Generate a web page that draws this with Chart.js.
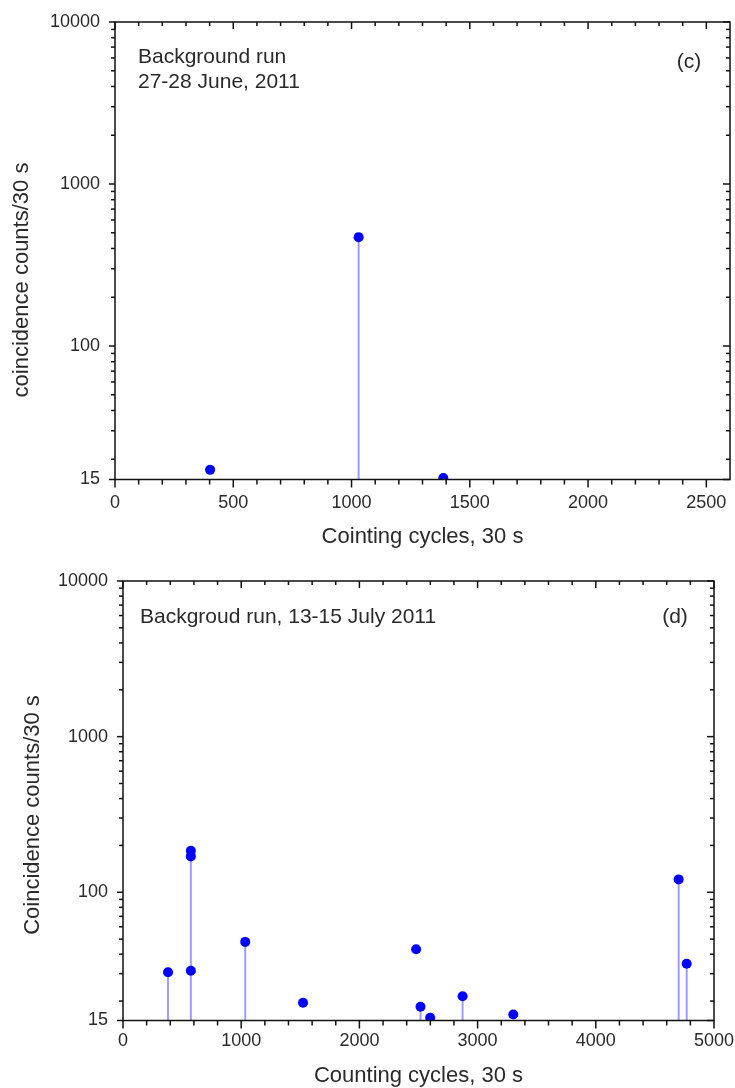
<!DOCTYPE html>
<html>
<head>
<meta charset="utf-8">
<script src="https://cdn.jsdelivr.net/npm/chart.js@4.4.1/dist/chart.umd.min.js"></script>
<style>
  html, body { margin: 0; padding: 0; background: #fff; }
  #wrap { position: relative; width: 735px; height: 1088px; }
  canvas { position: absolute; left: 0; }
  #chartC { top: 0; }
  #chartD { top: 555px; }
</style>
</head>
<body>
<div id="wrap">
  <canvas id="chartC" width="735" height="555"></canvas>
  <canvas id="chartD" width="735" height="533"></canvas>
</div>
<script>
const Y_MIN = 15;
const Y_MAX = 10000;
const Y_TICKS = [15, 100, 1000, 10000];
const Y_MINOR = [20, 30, 40, 50, 60, 70, 80, 90, 200, 300, 400, 500, 600, 700, 800, 900,
  2000, 3000, 4000, 5000, 6000, 7000, 8000, 9000];

// panel (c)
const cX = [402, 1030, 1388];
const cY = [17.2, 470, 15.3];
const cStem = [false, true, false];
const cXTicks = [0, 500, 1000, 1500, 2000, 2500];
const cXMinor = [100, 200, 300, 400, 600, 700, 800, 900, 1100, 1200, 1300, 1400, 1600, 1700,
  1800, 1900, 2100, 2200, 2300, 2400];
const cXMax = 2600;

// panel (d)
const dX = [381, 574, 574, 574, 1034, 1523, 2480, 2517, 2599, 2873, 3302, 4701, 4769];
const dY = [30.6, 31.3, 170, 185, 48, 19.5, 43, 18.4, 15.6, 21.5, 16.4, 121, 34.7];
const dStem = [true, true, true, true, true, false, false, true, false, true, false, true, true];
const dXTicks = [0, 1000, 2000, 3000, 4000, 5000];
const dXMinor = [200, 400, 600, 800, 1200, 1400, 1600, 1800, 2200, 2400, 2600, 2800,
  3200, 3400, 3600, 3800, 4200, 4400, 4600, 4800];
const dXMax = 5000;

const FONT = "'Liberation Sans', Arial, Helvetica, sans-serif";
const TEXT = "#2a2a2a";

function stemData(xs, ys, flags) {
  const out = [];
  xs.forEach((x, i) => {
    if (!flags[i]) return;
    out.push({ x, y: Y_MIN }, { x, y: ys[i] }, { x, y: null });
  });
  return out;
}

// frame, tick marks, titles and notes
const framePlugin = {
  id: "frame",
  afterDraw(chart, args, o) {
    const { ctx, chartArea: a } = chart;
    const sx = chart.scales.x, sy = chart.scales.y;
    ctx.save();
    ctx.strokeStyle = "#111";
    ctx.lineWidth = 1.5;
    ctx.strokeRect(a.left, a.top, a.right - a.left, a.bottom - a.top);
    const line = (x1, y1, x2, y2) => {
      ctx.beginPath();
      ctx.moveTo(x1, y1);
      ctx.lineTo(x2, y2);
      ctx.stroke();
    };
    const xMarks = (vals, outLen, inLen) => vals.forEach((v) => {
      const p = sx.getPixelForValue(v);
      line(p, a.bottom, p, a.bottom + outLen);
      line(p, a.top, p, a.top + inLen);
    });
    const yMarks = (vals, outLen, inLen) => vals.forEach((v) => {
      const p = sy.getPixelForValue(v);
      line(a.left, p, a.left - outLen, p);
      line(a.right, p, a.right - inLen, p);
    });
    xMarks(o.xTicks, 8, 7);
    xMarks(o.xMinor, 5, 4);
    yMarks(Y_TICKS, 6, 7);
    yMarks(Y_MINOR, 4, 4);

    ctx.fillStyle = TEXT;
    ctx.textBaseline = "middle";
    // axis titles
    ctx.font = "22px " + FONT;
    ctx.textAlign = "center";
    ctx.fillText(o.xTitle, (a.left + a.right) / 2, o.xTitleY);
    ctx.save();
    ctx.translate(o.yTitleX, o.yTitleY);
    ctx.rotate(-Math.PI / 2);
    ctx.fillText(o.yTitle, 0, 0);
    ctx.restore();
    // notes
    ctx.font = "21px " + FONT;
    o.notes.forEach((n) => {
      ctx.textAlign = n.align || "left";
      ctx.fillText(n.text, n.x, n.y);
    });
    ctx.restore();
  },
};

function makePanel(id, xs, ys, stems, xTicks, xMinor, xMax, layout) {
  return new Chart(document.getElementById(id), {
    type: "scatter",
    data: {
      datasets: [
        {
          data: xs.map((x, i) => ({ x, y: ys[i] })),
          backgroundColor: "#0000ff",
          borderWidth: 0,
          pointRadius: 5,
          pointHoverRadius: 5,
          clip: 0,
        },
        {
          type: "line",
          data: stemData(xs, ys, stems),
          borderColor: "rgba(60, 60, 255, 0.5)",
          borderWidth: 2,
          pointRadius: 0,
          spanGaps: false,
          clip: 0,
        },
      ],
    },
    options: {
      responsive: false,
      animation: false,
      layout: { padding: layout.padding },
      plugins: {
        legend: { display: false },
        tooltip: { enabled: false },
        frame: {
          xTicks,
          xMinor,
          xTitle: layout.xTitle,
          xTitleY: layout.xTitleY,
          yTitle: layout.yTitle,
          yTitleX: layout.yTitleX,
          yTitleY: layout.yTitleY,
          notes: layout.notes,
        },
      },
      scales: {
        x: {
          type: "linear",
          min: 0,
          max: xMax,
          grid: { display: false, drawTicks: false },
          border: { display: false },
          afterBuildTicks: (s) => { s.ticks = xTicks.map((v) => ({ value: v })); },
          afterFit: (s) => {
            s.height = layout.xHeight;
            s.paddingLeft = 0;
            s.paddingRight = 0;
          },
          ticks: {
            padding: layout.xPad,
            maxRotation: 0,
            autoSkip: false,
            color: TEXT,
            font: { family: FONT, size: 18 },
            callback: (v) => String(v),
          },
        },
        y: {
          type: "logarithmic",
          min: Y_MIN,
          max: Y_MAX,
          grid: { display: false, drawTicks: false },
          border: { display: false },
          afterBuildTicks: (s) => { s.ticks = Y_TICKS.map((v) => ({ value: v })); },
          afterFit: (s) => {
            s.width = layout.yWidth;
            s.paddingTop = 0;
            s.paddingBottom = 0;
          },
          ticks: {
            padding: 15,
            autoSkip: false,
            color: TEXT,
            font: { family: FONT, size: 18 },
            callback: (v) => String(v),
          },
        },
      },
    },
    plugins: [framePlugin],
  });
}

makePanel("chartC", cX, cY, cStem, cXTicks, cXMinor, cXMax, {
  padding: { top: 22, right: 3, left: 0, bottom: 0 },
  yWidth: 115,
  xHeight: 75.5,
  xPad: 13,
  xTitle: "Cointing cycles, 30 s",
  xTitleY: 537,
  yTitle: "coincidence counts/30 s",
  yTitleX: 22,
  yTitleY: 280,
  notes: [
    { text: "Background run", x: 138, y: 57 },
    { text: "27-28 June, 2011", x: 138, y: 82 },
    { text: "(c)", x: 689, y: 62, align: "center" },
  ],
});

makePanel("chartD", dX, dY, dStem, dXTicks, dXMinor, dXMax, {
  padding: { top: 26, right: 21, left: 0, bottom: 0 },
  yWidth: 123,
  xHeight: 67.5,
  xPad: 10,
  xTitle: "Counting cycles, 30 s",
  xTitleY: 521,
  yTitle: "Coincidence counts/30 s",
  yTitleX: 33,
  yTitleY: 260,
  notes: [
    { text: "Backgroud run, 13-15 July 2011", x: 140, y: 62 },
    { text: "(d)", x: 675, y: 62, align: "center" },
  ],
});
</script>
</body>
</html>
